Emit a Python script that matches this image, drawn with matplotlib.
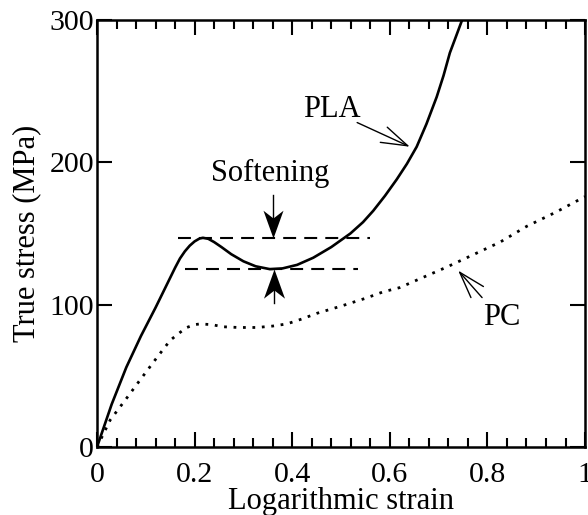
"""True stress vs logarithmic strain for PLA and PC."""
import matplotlib
matplotlib.use("Agg")
import matplotlib.pyplot as plt
from matplotlib.path import Path
from matplotlib.ticker import MultipleLocator

plt.rcParams["font.family"] = ["Liberation Serif", "DejaVu Serif"]

# PLA curve
pla_strain = [0.0, 0.03, 0.06, 0.09, 0.12, 0.15, 0.16, 0.17, 0.18, 0.19,
              0.20, 0.21, 0.217, 0.228, 0.24, 0.255, 0.275, 0.30, 0.325,
              0.354, 0.38, 0.41, 0.443, 0.48, 0.519, 0.545, 0.566, 0.59,
              0.614, 0.635, 0.655, 0.675, 0.696, 0.71, 0.723, 0.735, 0.748]
pla_stress = [0, 30, 56, 78, 98, 119, 126, 132.5, 137.5, 141.5,
              144.5, 146.5, 147, 146.3, 144, 140.5, 135.5, 130.5, 127,
              125, 125.5, 128, 133, 140.5, 150, 158, 166, 176.5,
              188, 199, 211, 227, 246, 261, 277, 288, 300]

# PC curve
pc_strain = [0.0, 0.027, 0.06, 0.088, 0.123, 0.15, 0.17, 0.184, 0.2, 0.211,
             0.235, 0.258, 0.29, 0.328, 0.36, 0.389, 0.42, 0.451, 0.50,
             0.55, 0.586, 0.62, 0.66, 0.717, 0.77, 0.826, 0.88, 0.94, 1.0]
pc_stress = [0, 19, 34, 47, 63, 75, 80.5, 84, 86, 86.5,
             86, 84.5, 84, 84, 85, 86.5, 90, 94, 99,
             104.5, 109, 112, 118, 126.5, 135, 144, 155, 165, 176]

# softening levels
yield_peak = 147
yield_min = 125

x_ticks = [0, 0.2, 0.4, 0.6, 0.8, 1.0]
x_ticklabels = ["0", "0.2", "0.4", "0.6", "0.8", "1"]
y_ticks = [0, 100, 200, 300]

# notched arrow head, tip at the origin, body along +y
HEAD_DOWN = Path([(0, 0), (-0.36, 1.0), (0, 0.72), (0.36, 1.0), (0, 0)],
                 [Path.MOVETO, Path.LINETO, Path.LINETO, Path.LINETO, Path.CLOSEPOLY])
HEAD_UP = Path([(0, 0), (-0.36, -1.0), (0, -0.72), (0.36, -1.0), (0, 0)],
               [Path.MOVETO, Path.LINETO, Path.LINETO, Path.LINETO, Path.CLOSEPOLY])

fig = plt.figure(figsize=(5.88, 5.15), dpi=100)
ax = fig.add_axes([0.165, 0.132, 0.83, 0.829])

ax.plot(pla_strain, pla_stress, color="black", lw=1.9, solid_joinstyle="round")
ax.plot(pc_strain, pc_stress, color="black", lw=2.0, linestyle=(0, (1, 2.4)))

dash = (0, (6.2, 3.9))
ax.plot([0.166, 0.559], [yield_peak, yield_peak], color="black", lw=1.5, linestyle=dash)
ax.plot([0.18, 0.535], [yield_min, yield_min], color="black", lw=1.5, linestyle=dash)

# softening arrows
ax.plot([0.361, 0.361], [177, yield_peak + 5], color="black", lw=1.0)
ax.plot([0.361], [yield_peak], marker=HEAD_DOWN, markersize=40, color="black", mew=0)
ax.plot([0.363, 0.363], [101, yield_min - 5], color="black", lw=1.0)
ax.plot([0.363], [yield_min], marker=HEAD_UP, markersize=42, color="black", mew=0)
ax.text(0.355, 192.5, "Softening", fontsize=22, ha="center", va="center")

# curve labels
open_head = dict(arrowstyle="->,head_length=1.9,head_width=0.6", mutation_scale=10,
                 color="black", lw=1.0, shrinkA=0, shrinkB=0)
ax.text(0.482, 237, "PLA", fontsize=22, ha="center", va="center")
ax.annotate("", xy=(0.641, 211), xytext=(0.533, 228), arrowprops=open_head)
ax.text(0.83, 91, "PC", fontsize=22, ha="center", va="center")
ax.annotate("", xy=(0.74, 124), xytext=(0.789, 105), arrowprops=open_head)

ax.set_xlim(0, 1)
ax.set_ylim(0, 300)
ax.set_xticks(x_ticks)
ax.set_xticklabels(x_ticklabels)
ax.set_yticks(y_ticks)
ax.xaxis.set_minor_locator(MultipleLocator(0.04))
ax.tick_params(which="both", direction="in", top=True, right=True,
               labelsize=21.5, width=1.5)
ax.tick_params(which="major", length=11)
ax.tick_params(which="minor", length=6.5)
ax.tick_params(axis="x", pad=11)
ax.tick_params(axis="y", pad=2)
for s in ax.spines.values():
    s.set_linewidth(1.8)

ax.set_xlabel("Logarithmic strain", fontsize=22, va="top")
ax.xaxis.set_label_coords(0.5, -0.093)
ax.set_ylabel("True stress (MPa)", fontsize=22, labelpad=6)

fig.savefig("out.png", dpi=100)
